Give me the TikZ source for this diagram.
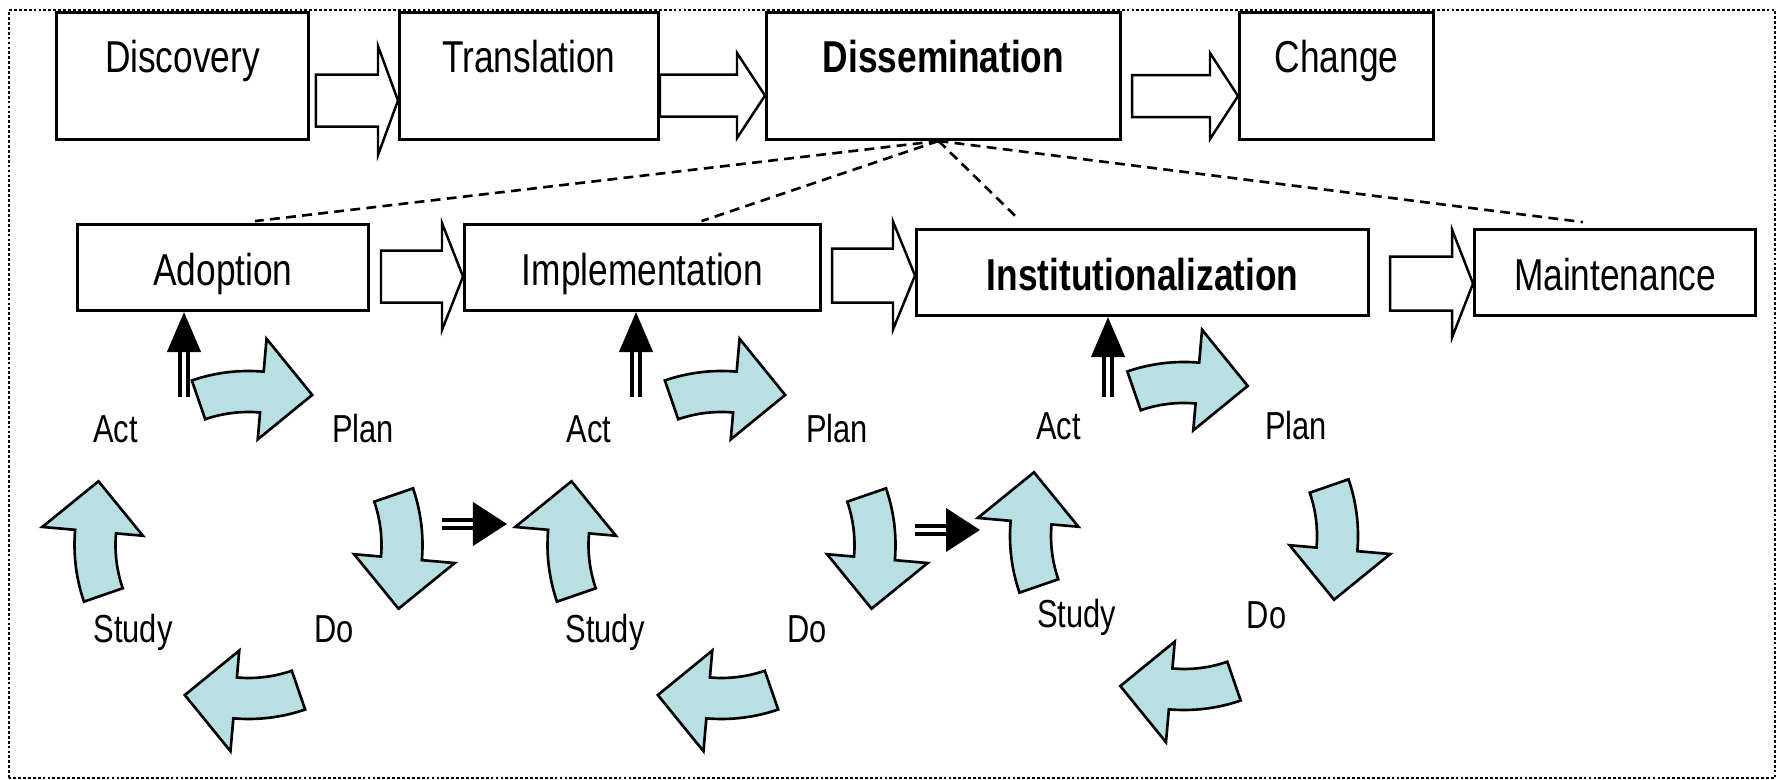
\documentclass[tikz,border=0pt]{standalone}
\usepackage{fontspec}
\setmainfont[FakeStretch=0.79]{Liberation Sans}
\usetikzlibrary{calc,arrows.meta}
\definecolor{pdsafill}{RGB}{184,224,227}

\begin{document}
\begin{tikzpicture}[
    x=0.01cm, y=0.01cm,
    stage/.style={draw, line width=0.8pt, anchor=south west, inner ysep=0pt, text height=0.60cm, text depth=0.67cm, font=\fontsize{12.7}{14}\selectfont},
    phase/.style={stage, text height=0.61cm, text depth=0.25cm},
    pdsa/.style={anchor=base, inner sep=0pt, font=\fontsize{11.1}{13}\selectfont},
    hollow/.style n args={3}{draw, fill=white, line width=0.7pt, to path={
        let \p1=(\tikztostart), \p2=(\tikztotarget) in
        (\x1,\y2+#1) -- (\x2-#3,\y2+#1) -- (\x2-#3,\y2+#2) -- (\p2)
        -- (\x2-#3,\y2-#2) -- (\x2-#3,\y2-#1) -- (\x1,\y2-#1) -- cycle}},
    link/.style={line width=0.75pt, dash pattern=on 2.8pt off 1.8pt},
    dbl/.style 2 args={double, double distance=1.1pt, line width=1.2pt, -{Triangle[length=#1,width=#2]}},
    cycarrow/.style={draw, fill=pdsafill, line width=0.75pt},
    turn/.pic={
        \path[cycarrow] (109:174) arc[start angle=109, end angle=85, radius=174]
            -- (85:207) -- (67:163) -- (85:106) -- (85:133)
            arc[start angle=85, end angle=109, radius=133] -- cycle;
    }
]
\useasboundingbox (0,0) rectangle (1780,780);
\draw[line width=0.6pt, dash pattern=on 0.8pt off 0.6pt] (9,2) rectangle (1775,770);

\node[stage, minimum width=2.52cm] (Discovery) at (55,639) {Discovery};
\node[stage, minimum width=2.59cm] (Translation) at (398,639) {Translation};
\node[stage, minimum width=3.54cm, font=\fontsize{12.7}{14}\selectfont\bfseries] (Dissemination) at (765,639) {Dissemination};
\node[stage, minimum width=1.94cm] (Change) at (1238,639) {Change};

\node[phase, minimum width=2.91cm] (Adoption) at (76,468) {Adoption};
\node[phase, minimum width=3.56cm] (Implementation) at (463,468) {Implementation};
\node[phase, minimum width=4.52cm, font=\fontsize{12.7}{14}\selectfont\bfseries] (Institutionalization) at (915,463) {Institutionalization};
\node[phase, minimum width=2.81cm] (Maintenance) at (1473,463) {Maintenance};

\draw[hollow={0.26cm}{0.545cm}{0.20cm}] ([xshift=0.06cm]Discovery.east) to ([yshift=-0.245cm]Translation.west);
\draw[hollow={0.21cm}{0.425cm}{0.28cm}] (Translation.east) to ([yshift=-0.195cm]Dissemination.west);
\draw[hollow={0.21cm}{0.43cm}{0.28cm}] ([xshift=0.1cm]Dissemination.east) to ([yshift=-0.2cm]Change.west);
\draw[hollow={0.26cm}{0.535cm}{0.21cm}] ([xshift=0.11cm]Adoption.east) to ([yshift=-0.09cm]Implementation.west);
\draw[hollow={0.27cm}{0.54cm}{0.22cm}] ([xshift=0.1cm]Implementation.east) to ([yshift=-0.03cm]Institutionalization.west);
\draw[hollow={0.27cm}{0.54cm}{0.21cm}] ([xshift=0.2cm]Institutionalization.east) to ([yshift=-0.11cm]Maintenance.west);

\coordinate (spread) at ([xshift=-0.05cm]Dissemination.south);
\draw[link] (spread) -- ([xshift=0.32cm,yshift=0.02cm]Adoption.north);
\draw[link] (spread) -- ([xshift=0.59cm,yshift=0.02cm]Implementation.north);
\draw[link] (spread) -- ([xshift=-1.23cm,yshift=0.08cm]Institutionalization.north);
\draw[link] (spread) -- ([xshift=-0.32cm,yshift=0.06cm]Maintenance.north);

\foreach \cx/\cy/\sx/\sy in {248.5/235/1/0.91, 721.5/235/1/0.91, 1184/244/0.955/0.86}{
  \begin{scope}[shift={(\cx,\cy)}, xscale=\sx, yscale=\sy]
    \foreach \r in {0,-90,-180,-270} \pic[rotate=\r] {turn};
  \end{scope}
}

\node[pdsa] (act1) at (115.5,337) {Act};
\node[pdsa] (plan1) at (363,337) {Plan};
\node[pdsa] (study1) at (133,137) {Study};
\node[pdsa] (do1) at (334,137) {Do};
\node[pdsa] (act2) at (589,337) {Act};
\node[pdsa] (plan2) at (837,337) {Plan};
\node[pdsa] (study2) at (605,137) {Study};
\node[pdsa] (do2) at (807,137) {Do};
\node[pdsa] (act3) at (1058.5,340) {Act};
\node[pdsa] (plan3) at (1296,340) {Plan};
\node[pdsa] (study3) at (1076.5,152) {Study};
\node[pdsa] (do3) at (1266.5,151) {Do};

\coordinate (up1) at (184,383);
\coordinate (up2) at (636,383);
\coordinate (up3) at (1108,383);
\draw[dbl={0.4cm}{0.33cm}] (up1) -- (up1 |- Adoption.south);
\draw[dbl={0.4cm}{0.33cm}] (up2) -- (up2 |- Implementation.south);
\draw[dbl={0.4cm}{0.33cm}] (up3) -- (up3 |- Institutionalization.south);
\coordinate (out1) at (442,256);
\coordinate (in2) at (507,256);
\coordinate (out2) at (915,250);
\coordinate (in3) at (980,250);
\draw[dbl={0.34cm}{0.43cm}] (out1) -- (in2);
\draw[dbl={0.34cm}{0.43cm}] (out2) -- (in3);
\end{tikzpicture}
\end{document}
